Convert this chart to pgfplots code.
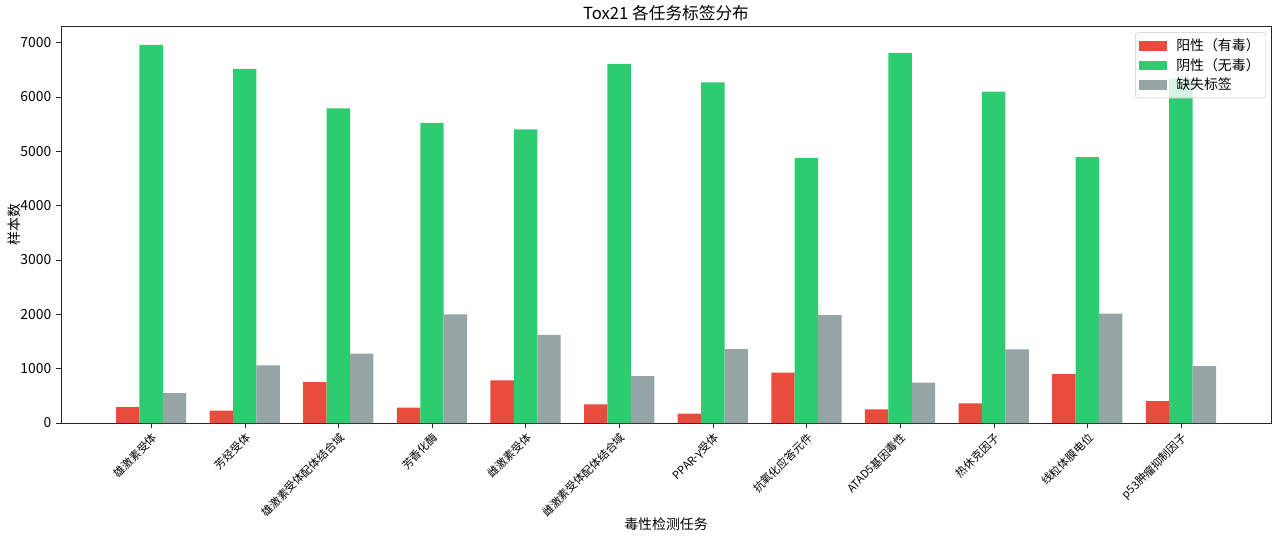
\documentclass[border=0pt]{standalone}
\usepackage{fontspec}
\setmainfont{Noto Sans CJK SC}
\usepackage{pgfplots}
\pgfplotsset{compat=1.18}
\definecolor{pos}{HTML}{E74C3C}
\definecolor{neg}{HTML}{2ECC71}
\definecolor{miss}{HTML}{95A5A6}
\begin{document}
\begin{tikzpicture}
\path[use as bounding box] (0,0) rectangle (921.6pt,385.92pt);
\begin{axis}[
  at={(43.92pt,81.36pt)}, anchor=south west,
  scale only axis, width=871.2pt, height=285.84pt,
  xmin=-0.9625, xmax=11.9625, ymin=0, ymax=7302,
  axis line style={black!85},
  tick align=outside, tick pos=left,
  major tick length=3.5pt,
  tick style={black!85},
  /pgf/number format/assume math mode=true,
  /pgf/number format/1000 sep={},
  ytick={0,1000,...,7000},
  yticklabel style={font=\fontsize{10}{12}\selectfont},
  xtick={0,...,11},
  xticklabels={雄激素受体,芳烃受体,雄激素受体配体结合域,芳香化酶,雌激素受体,雌激素受体配体结合域,PPAR-γ受体,抗氧化应答元件,ATAD5基因毒性,热休克因子,线粒体膜电位,p53肿瘤抑制因子},
  xticklabel style={rotate=45, anchor=north east, font=\fontsize{8}{9.6}\selectfont, inner sep=1pt, yshift=-1pt, xshift=-1pt},
  title={Tox21 各任务标签分布},
  title style={font=\fontsize{12}{14}\selectfont, yshift=-6pt},
  xlabel={毒性检测任务},
  ylabel={样本数},
  label style={font=\fontsize{10}{12}\selectfont},
  xlabel style={yshift=5pt},
  ylabel style={at={(axis description cs:-0.039,0.5)}, anchor=center},
  bar width=0.25,
  legend cell align=left,
  legend style={at={(0.996,0.984)}, anchor=north east, draw=black!20, rounded corners=2pt,
    fill=white, fill opacity=0.8, text opacity=1, font=\fontsize{10}{12}\selectfont,
    inner sep=2.5pt},
  legend image code/.code={\fill[#1, sharp corners, fill opacity=1] (0pt,-3.5pt) rectangle (20pt,3.5pt); \path (25pt,0pt);},
]
\addplot[ybar, bar shift=-0.25, fill=pos, draw=none] coordinates {
  (0,294) (1,227) (2,754) (3,282) (4,784) (5,343) (6,172) (7,925) (8,251) (9,361) (10,900) (11,404)};
\addlegendentry{阳性（有毒）}
\addplot[ybar, bar shift=0, fill=neg, draw=none] coordinates {
  (0,6954) (1,6513) (2,5785) (3,5520) (4,5399) (5,6605) (6,6263) (7,4877) (8,6807) (9,6097) (10,4890) (11,6336)};
\addlegendentry{阴性（无毒）}
\addplot[ybar, bar shift=0.25, fill=miss, draw=none] coordinates {
  (0,551) (1,1060) (2,1275) (3,1998) (4,1623) (5,864) (6,1360) (7,1985) (8,741) (9,1354) (10,2010) (11,1048)};
\addlegendentry{缺失标签}
\end{axis}
\end{tikzpicture}
\end{document}
